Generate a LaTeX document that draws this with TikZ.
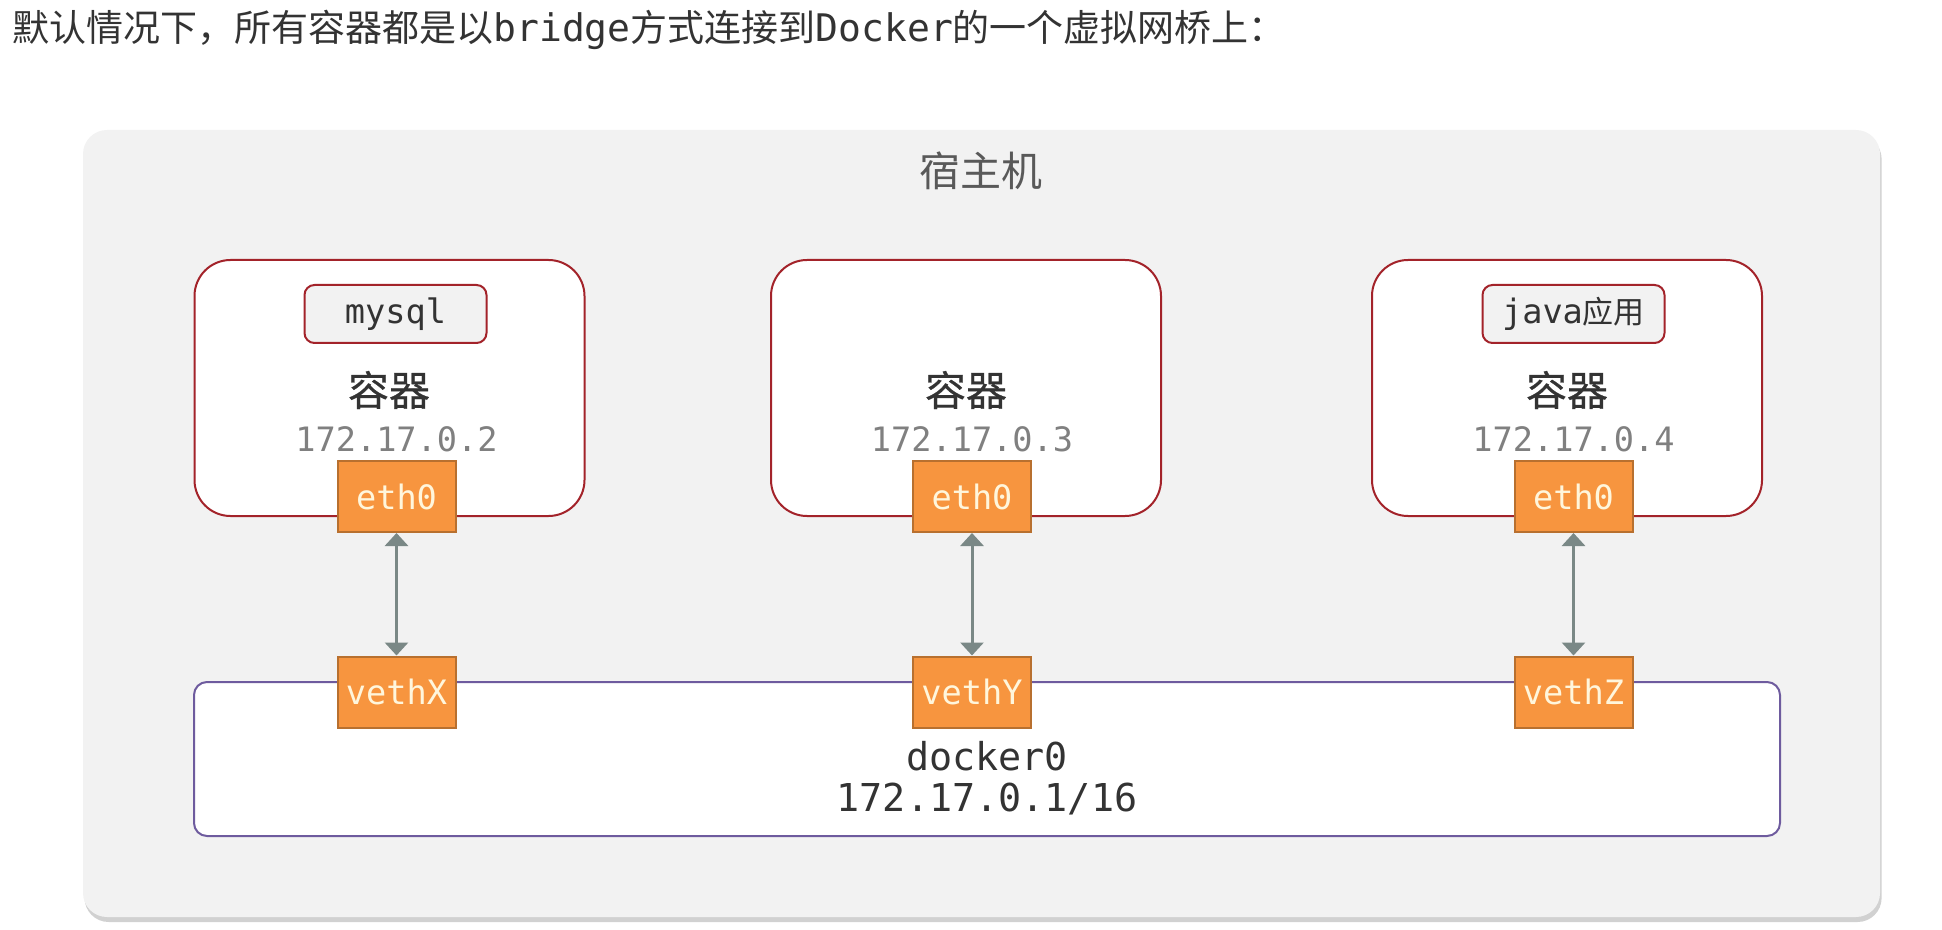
\documentclass[tikz,border=0pt]{standalone}
\usepackage{fontspec}
\setmonofont{DejaVu Sans Mono}
\newfontfamily\cjk{Noto Sans CJK SC}
\newfontfamily\cjkheavy{Noto Sans CJK SC}[FakeBold=0.6]
\usetikzlibrary{arrows.meta, shadows}

\definecolor{hostgray}{HTML}{F2F2F2}
\definecolor{hosttext}{HTML}{595959}
\definecolor{boxred}{HTML}{A3232A}
\definecolor{portorange}{HTML}{F7953F}
\definecolor{portline}{HTML}{B8702F}
\definecolor{porttext}{HTML}{FFF6DC}
\definecolor{bridgepurple}{HTML}{6E5B9E}
\definecolor{linkgray}{HTML}{7A8886}
\definecolor{iptext}{HTML}{808080}
\definecolor{textdark}{HTML}{333333}

\newcommand{\zh}[2]{{\cjk\fontsize{#1}{#1}\selectfont #2}}
\newcommand{\en}[2]{{\ttfamily\fontsize{#1}{#1}\selectfont #2}}

\begin{document}
\begin{tikzpicture}[
    x = 0.5pt, y = -0.5pt,
    every node/.style = {font = \ttfamily\fontsize{16.8}{20}\selectfont,
      inner sep = 0pt, text = textdark},
    host/.style = {fill = hostgray, rounded corners = 12pt,
      minimum width = 898.5pt, minimum height = 393.5pt,
      drop shadow = {shadow xshift = 0.8pt, shadow yshift = -2.5pt,
        opacity = 0.3, fill = black!60}},
    container/.style = {draw = boxred, line width = 1pt, fill = white,
      rounded corners = 18pt, minimum width = 195pt, minimum height = 128pt},
    app/.style = {draw = boxred, line width = 1pt, fill = hostgray,
      rounded corners = 5pt, minimum width = 91pt, minimum height = 29pt},
    port/.style = {draw = portline, line width = 1pt, fill = portorange,
      text = porttext, minimum width = 59pt, minimum height = 35.5pt},
    bridge/.style = {draw = bridgepurple, line width = 1pt, fill = white,
      rounded corners = 6.5pt, minimum width = 793pt, minimum height = 77pt},
    ip/.style = {text = iptext},
    kind/.style = {font = \cjkheavy\fontsize{20.5}{24}\selectfont},
    link/.style = {draw = linkgray, line width = 1.5pt,
      {Triangle[width = 11.5pt, length = 6.5pt]}-{Triangle[width = 11.5pt, length = 6.5pt]}}
  ]
  \useasboundingbox (0,0) rectangle (1942,930);

  \node[anchor = west, font = \cjk\fontsize{18.5}{22}\selectfont] (title) at (12,30)
    {默认情况下，所有容器都是以\en{19}{bridge}方式连接到\en{19}{Docker}的一个虚拟网桥上：};

  \node[host] (host) at (981.5,523.5) {};
  \node[text = hosttext] (hostname) at (981,171) {\zh{20.5}{宿主机}};

  % containers
  \node[container] (c1) at (389.5,388) {};
  \node[container] (c2) at (966,388) {};
  \node[container] (c3) at (1567,388) {};

  \node[app] (mysql) at (395.5,314) {mysql};
  \node[app] (java) at (1573.5,314) {java\zh{15.5}{应用}};

  \node[kind] (c1name) at (389,390) {容器};
  \node[kind] (c2name) at (966,390) {容器};
  \node[kind] (c3name) at (1567,390) {容器};

  \node[ip] (c1ip) at (396.5,439) {172.17.0.2};
  \node[ip] (c2ip) at (972,439) {172.17.0.3};
  \node[ip] (c3ip) at (1573.5,439) {172.17.0.4};

  \node[port] (eth1) at (396.5,496.5) {eth0};
  \node[port] (eth2) at (972,496.5) {eth0};
  \node[port] (eth3) at (1573.5,496.5) {eth0};

  % bridge
  \node[bridge] (docker) at (987,759) {};
  \node[font = \ttfamily\fontsize{19.2}{23}\selectfont] (dockername) at (987,756) {docker0};
  \node[font = \ttfamily\fontsize{19.2}{23}\selectfont] (dockerip) at (987,799) {172.17.0.1/16};

  \node[port] (veth1) at (396.5,692) {vethX};
  \node[port] (veth2) at (972,692) {vethY};
  \node[port] (veth3) at (1573.5,692) {vethZ};

  % links
  \draw[link] (eth1) -- (veth1);
  \draw[link] (eth2) -- (veth2);
  \draw[link] (eth3) -- (veth3);

\end{tikzpicture}
\end{document}
